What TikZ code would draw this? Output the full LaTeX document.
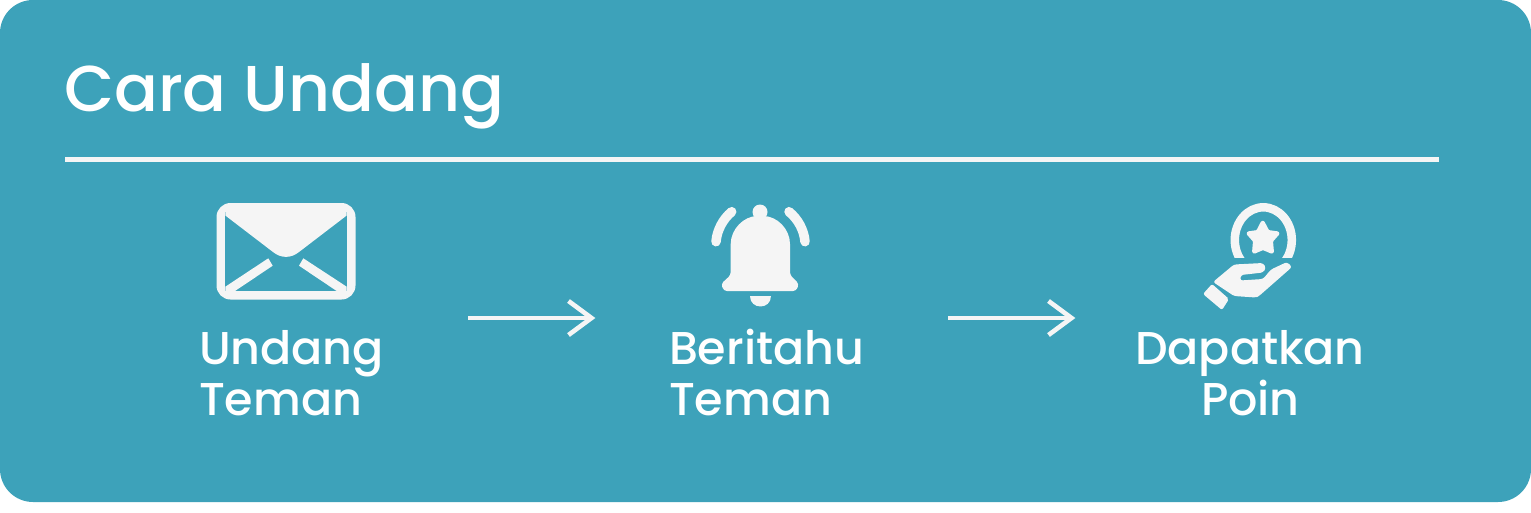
\documentclass[tikz,border=0pt]{standalone}
\usepackage{fontspec}
\setmainfont{Poppins Medium}
\definecolor{card}{HTML}{3DA2BA}
\definecolor{ink}{HTML}{F5F5F5}
\tikzset{
  x=1pt,y=-1pt,
  ink shape/.style={fill=ink,draw=none},
  soft/.style={fill=ink,draw=ink,line width=3pt,line join=round},
  hole/.style={fill=card,draw=none},
  label/.style={anchor=base west,inner sep=0pt,outer sep=0pt,text=white,font=\fontsize{46}{50}\selectfont},
  flow/.style={draw=ink,line width=4.6pt},
}
\begin{document}
\begin{tikzpicture}
\useasboundingbox (0,0) rectangle (1531,512);
\fill[white] (0,0) rectangle (1531,512);
\fill[card,rounded corners=33pt] (0,0) rectangle (1531,502);

\node[label,font=\fontsize{64.8}{70}\selectfont] (title) at (64,111) {Cara Undang};
\coordinate (ruleL) at (65,159);
\coordinate (ruleR) at (1439,159);
\draw[ink,line width=5pt] (ruleL) -- (ruleR);

% envelope
\fill[ink,rounded corners=14pt] (216.5,203) rectangle (355.5,299.5);
\fill[hole] (225.3,212) rectangle (346.7,291);
\fill[ink shape] (225.3,208) -- (225.3,215.5) -- (273,252)
  .. controls (281,258.5) and (291,258.5) .. (299,252)
  -- (346.7,215.5) -- (346.7,208) -- cycle;
\fill[ink shape] (225.3,286.7) -- (268.3,258.3) -- (272.7,265.7) -- (235,291) -- (225.3,292) -- cycle;
\fill[ink shape] (303.3,258.3) -- (346.7,286.7) -- (346.7,292) -- (336.7,291) -- (299,265.7) -- cycle;

% bell
\fill[ink] (760,212) circle[radius=7.5pt];
\fill[ink shape,rounded corners=3pt] (730.7,275) -- (730.7,247)
  .. controls (730.7,229) and (744,216) .. (760.3,216)
  .. controls (777,216) and (790,229) .. (790,247)
  -- (790,275) -- (799,284) -- (796,291) -- (724,291) -- (721,284) -- cycle;
\fill[ink shape] (750,296) -- (770.7,296) .. controls (770.7,310) and (750,310) .. (750,296) -- cycle;
\draw[ink,line width=9.5pt,line cap=round] (731.7,211.7) .. controls (723,219) and (717,230) .. (716,241.7);
\draw[ink,line width=9.5pt,line cap=round] (789,211.7) .. controls (798,219) and (804,230) .. (805,241.7);

% coin in hand
\begin{scope}
\clip (1220,195) rectangle (1305,257.7);
\draw[ink,line width=8.5pt] (1263.3,240) ellipse[x radius=28.5pt,y radius=32.7pt];
\end{scope}
\draw[soft,rounded corners=1pt] (1262.7,221.5) -- (1268,231.5) -- (1278.5,233) -- (1271.5,241) -- (1272.5,252.5)
  -- (1263,248.5) -- (1253.5,252.5) -- (1254.5,241) -- (1247.5,233) -- (1257.5,231.5) -- cycle;
\fill[ink shape,rounded corners=2.5pt] (1213,282) -- (1234,264.5) -- (1263,263) -- (1266,268) -- (1263,272.5)
  -- (1241,275) -- (1240,280.5) -- (1263,279) -- (1271,269.5) -- (1287,262) -- (1292,267)
  -- (1259,296) -- (1256,297.5) -- (1234,296) -- cycle;
\fill[ink shape,rounded corners=2pt] (1203,294) -- (1212,284) -- (1229,299) -- (1222,310) -- cycle;

% labels
\node[label] (a1) at (199,364.4) {Undang};
\node[label] (a2) at (199,415.4) {Teman};
\node[label] (b1) at (669,364.4) {Beritahu};
\node[label] (b2) at (669,415.4) {Teman};
\node[label] (c1) at (1135,364.4) {Dapatkan};
\node[label] (c2) at (1201,415.4) {Poin};

% arrows
\coordinate (p1) at (468,318);
\coordinate (p2) at (591.5,318);
\coordinate (q1) at (948,318);
\coordinate (q2) at (1071.5,318);
\draw[flow] (p1) -- (p2);
\draw[flow] ([shift={(-23,-17)}]p2) -- (p2) -- ([shift={(-23,17)}]p2);
\draw[flow] (q1) -- (q2);
\draw[flow] ([shift={(-23,-17)}]q2) -- (q2) -- ([shift={(-23,17)}]q2);
\end{tikzpicture}
\end{document}
